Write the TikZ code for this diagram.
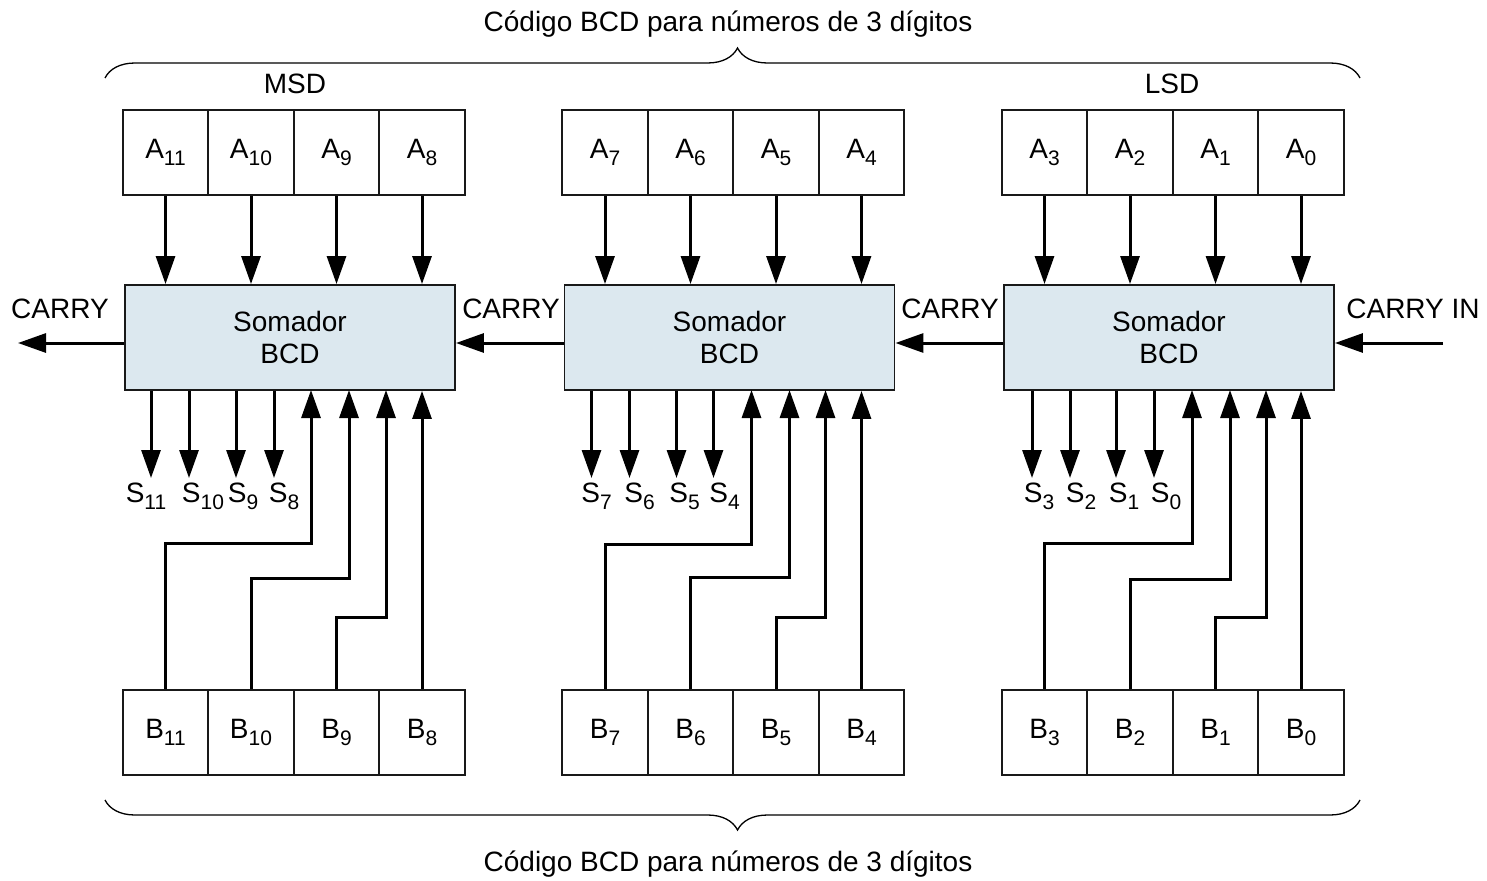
\documentclass[tikz,border=0pt]{standalone}
\usepackage{fontspec}
\setmainfont{Liberation Sans}
\usetikzlibrary{arrows.meta,decorations.pathreplacing}
\newcommand{\sig}[2]{#1\raisebox{-7pt}{\fontsize{21}{21}\selectfont #2}}
\definecolor{adderfill}{HTML}{DCE8EF}

\begin{document}
\begin{tikzpicture}[
    x=1pt, y=-1pt,
    font=\fontsize{28}{32}\selectfont,
    cell/.style={draw=black!90, line width=1.9pt, minimum width=85.5pt, minimum height=85pt, inner sep=0pt},
    adder/.style={draw=black!90, fill=adderfill, line width=1.9pt, minimum width=330pt, minimum height=105pt, align=center},
    arrow/.style={-{Triangle[length=28pt,width=19pt]}, line width=3pt},
    brace/.style={decorate, decoration={brace, amplitude=30pt}, line width=1.3pt}
]
    \useasboundingbox (0,0) rectangle (1487,880);

    % --- Titles ---
    \node (top) at (728,24) {Código BCD para números de 3 dígitos};
    \node (bot) at (728,864) {Código BCD para números de 3 dígitos};
    \draw[brace, decoration={aspect=0.504}] (105,78) -- (1360,78);
    \draw[brace, decoration={aspect=0.496}] (1360,800) -- (105,800);
    \node (msd) at (295,84) {MSD};
    \node (lsd) at (1172,84) {LSD};

    % --- MSD ---
    \begin{scope}[xshift=0pt]
        % Inputs A
        \node[cell] (a11) at (165.5,152.5) {\sig{A}{11}};
        \node[cell] (a10) at (251,152.5) {\sig{A}{10}};
        \node[cell] (a9) at (336.5,152.5) {\sig{A}{9}};
        \node[cell] (a8) at (422,152.5) {\sig{A}{8}};
        % Adder
        \node[adder] (add1) at (290,337.5) {Somador\\BCD};
        % Inputs B
        \node[cell] (b11) at (165.5,732.5) {\sig{B}{11}};
        \node[cell] (b10) at (251,732.5) {\sig{B}{10}};
        \node[cell] (b9) at (336.5,732.5) {\sig{B}{9}};
        \node[cell] (b8) at (422,732.5) {\sig{B}{8}};
        % Sum
        \coordinate (o11) at (151,478);
        \coordinate (o10) at (189,478);
        \coordinate (o9) at (236,478);
        \coordinate (o8) at (274,478);
        \node (s11) at (146,496) {\sig{S}{11}};
        \node (s10) at (203,496) {\sig{S}{10}};
        \node (s9) at (243,496) {\sig{S}{9}};
        \node (s8) at (284,496) {\sig{S}{8}};
        \coordinate (i11) at (311,390);
        \coordinate (i10) at (349,390);
        \coordinate (i9) at (386,390);

        \draw[arrow] (a11) -- (a11 |- add1.north);
        \draw[arrow] (a10) -- (a10 |- add1.north);
        \draw[arrow] (a9) -- (a9 |- add1.north);
        \draw[arrow] (a8) -- (a8 |- add1.north);
        \draw[arrow] (add1.south -| o11) -- (o11);
        \draw[arrow] (add1.south -| o10) -- (o10);
        \draw[arrow] (add1.south -| o9) -- (o9);
        \draw[arrow] (add1.south -| o8) -- (o8);
        \draw[arrow] (b11.north) -- ++(0,-146) -| (i11);
        \draw[arrow] (b10.north) -- ++(0,-111) -| (i10);
        \draw[arrow] (b9.north) -- ++(0,-72) -| (i9);
        \draw[arrow] (b8) -- (b8 |- add1.south);
    \end{scope}

    % --- Middle digit ---
    \begin{scope}[xshift=439.5pt]
        % Inputs A
        \node[cell] (a7) at (165.5,152.5) {\sig{A}{7}};
        \node[cell] (a6) at (251,152.5) {\sig{A}{6}};
        \node[cell] (a5) at (336.5,152.5) {\sig{A}{5}};
        \node[cell] (a4) at (422,152.5) {\sig{A}{4}};
        % Adder
        \node[adder] (add2) at (290,337.5) {Somador\\BCD};
        % Inputs B
        \node[cell] (b7) at (165.5,732.5) {\sig{B}{7}};
        \node[cell] (b6) at (251,732.5) {\sig{B}{6}};
        \node[cell] (b5) at (336.5,732.5) {\sig{B}{5}};
        \node[cell] (b4) at (422,732.5) {\sig{B}{4}};
        % Sum
        \coordinate (o7) at (152,478);
        \coordinate (o6) at (190,478);
        \coordinate (o5) at (237,478);
        \coordinate (o4) at (274,478);
        \node (s7) at (157,496) {\sig{S}{7}};
        \node (s6) at (200,496) {\sig{S}{6}};
        \node (s5) at (245,496) {\sig{S}{5}};
        \node (s4) at (285,496) {\sig{S}{4}};
        \coordinate (i7) at (312,390);
        \coordinate (i6) at (350,390);
        \coordinate (i5) at (386,390);

        \draw[arrow] (a7) -- (a7 |- add2.north);
        \draw[arrow] (a6) -- (a6 |- add2.north);
        \draw[arrow] (a5) -- (a5 |- add2.north);
        \draw[arrow] (a4) -- (a4 |- add2.north);
        \draw[arrow] (add2.south -| o7) -- (o7);
        \draw[arrow] (add2.south -| o6) -- (o6);
        \draw[arrow] (add2.south -| o5) -- (o5);
        \draw[arrow] (add2.south -| o4) -- (o4);
        \draw[arrow] (b7.north) -- ++(0,-145) -| (i7);
        \draw[arrow] (b6.north) -- ++(0,-112) -| (i6);
        \draw[arrow] (b5.north) -- ++(0,-72) -| (i5);
        \draw[arrow] (b4) -- (b4 |- add2.south);
    \end{scope}

    % --- LSD ---
    \begin{scope}[xshift=879pt]
        % Inputs A
        \node[cell] (a3) at (165.5,152.5) {\sig{A}{3}};
        \node[cell] (a2) at (251,152.5) {\sig{A}{2}};
        \node[cell] (a1) at (336.5,152.5) {\sig{A}{1}};
        \node[cell] (a0) at (422,152.5) {\sig{A}{0}};
        % Adder
        \node[adder] (add3) at (290,337.5) {Somador\\BCD};
        % Inputs B
        \node[cell] (b3) at (165.5,732.5) {\sig{B}{3}};
        \node[cell] (b2) at (251,732.5) {\sig{B}{2}};
        \node[cell] (b1) at (336.5,732.5) {\sig{B}{1}};
        \node[cell] (b0) at (422,732.5) {\sig{B}{0}};
        % Sum
        \coordinate (o3) at (153,478);
        \coordinate (o2) at (191,478);
        \coordinate (o1) at (237,478);
        \coordinate (o0) at (275,478);
        \node (s3) at (160,496) {\sig{S}{3}};
        \node (s2) at (202,496) {\sig{S}{2}};
        \node (s1) at (245,496) {\sig{S}{1}};
        \node (s0) at (287,496) {\sig{S}{0}};
        \coordinate (i3) at (313,390);
        \coordinate (i2) at (351,390);
        \coordinate (i1) at (387,390);

        \draw[arrow] (a3) -- (a3 |- add3.north);
        \draw[arrow] (a2) -- (a2 |- add3.north);
        \draw[arrow] (a1) -- (a1 |- add3.north);
        \draw[arrow] (a0) -- (a0 |- add3.north);
        \draw[arrow] (add3.south -| o3) -- (o3);
        \draw[arrow] (add3.south -| o2) -- (o2);
        \draw[arrow] (add3.south -| o1) -- (o1);
        \draw[arrow] (add3.south -| o0) -- (o0);
        \draw[arrow] (b3.north) -- ++(0,-146) -| (i3);
        \draw[arrow] (b2.north) -- ++(0,-110) -| (i2);
        \draw[arrow] (b1.north) -- ++(0,-72) -| (i1);
        \draw[arrow] (b0) -- (b0 |- add3.south);
    \end{scope}

    % --- Carries ---
    \coordinate (cout) at (18,343);
    \coordinate (cin) at (1443,343);
    \node (carry0) at (60,309) {CARRY};
    \node (carry1) at (511,309) {CARRY};
    \node (carry2) at (950,309) {CARRY};
    \node (carryin) at (1413,309) {CARRY IN};

    \draw[arrow] ([yshift=-5.5pt]add1.west) -- (cout);
    \draw[arrow] ([yshift=-5.5pt]add2.west) -- ([yshift=-5.5pt]add1.east);
    \draw[arrow] ([yshift=-5.5pt]add3.west) -- ([yshift=-5.5pt]add2.east);
    \draw[arrow] (cin) -- ([yshift=-5.5pt]add3.east);

\end{tikzpicture}
\end{document}
